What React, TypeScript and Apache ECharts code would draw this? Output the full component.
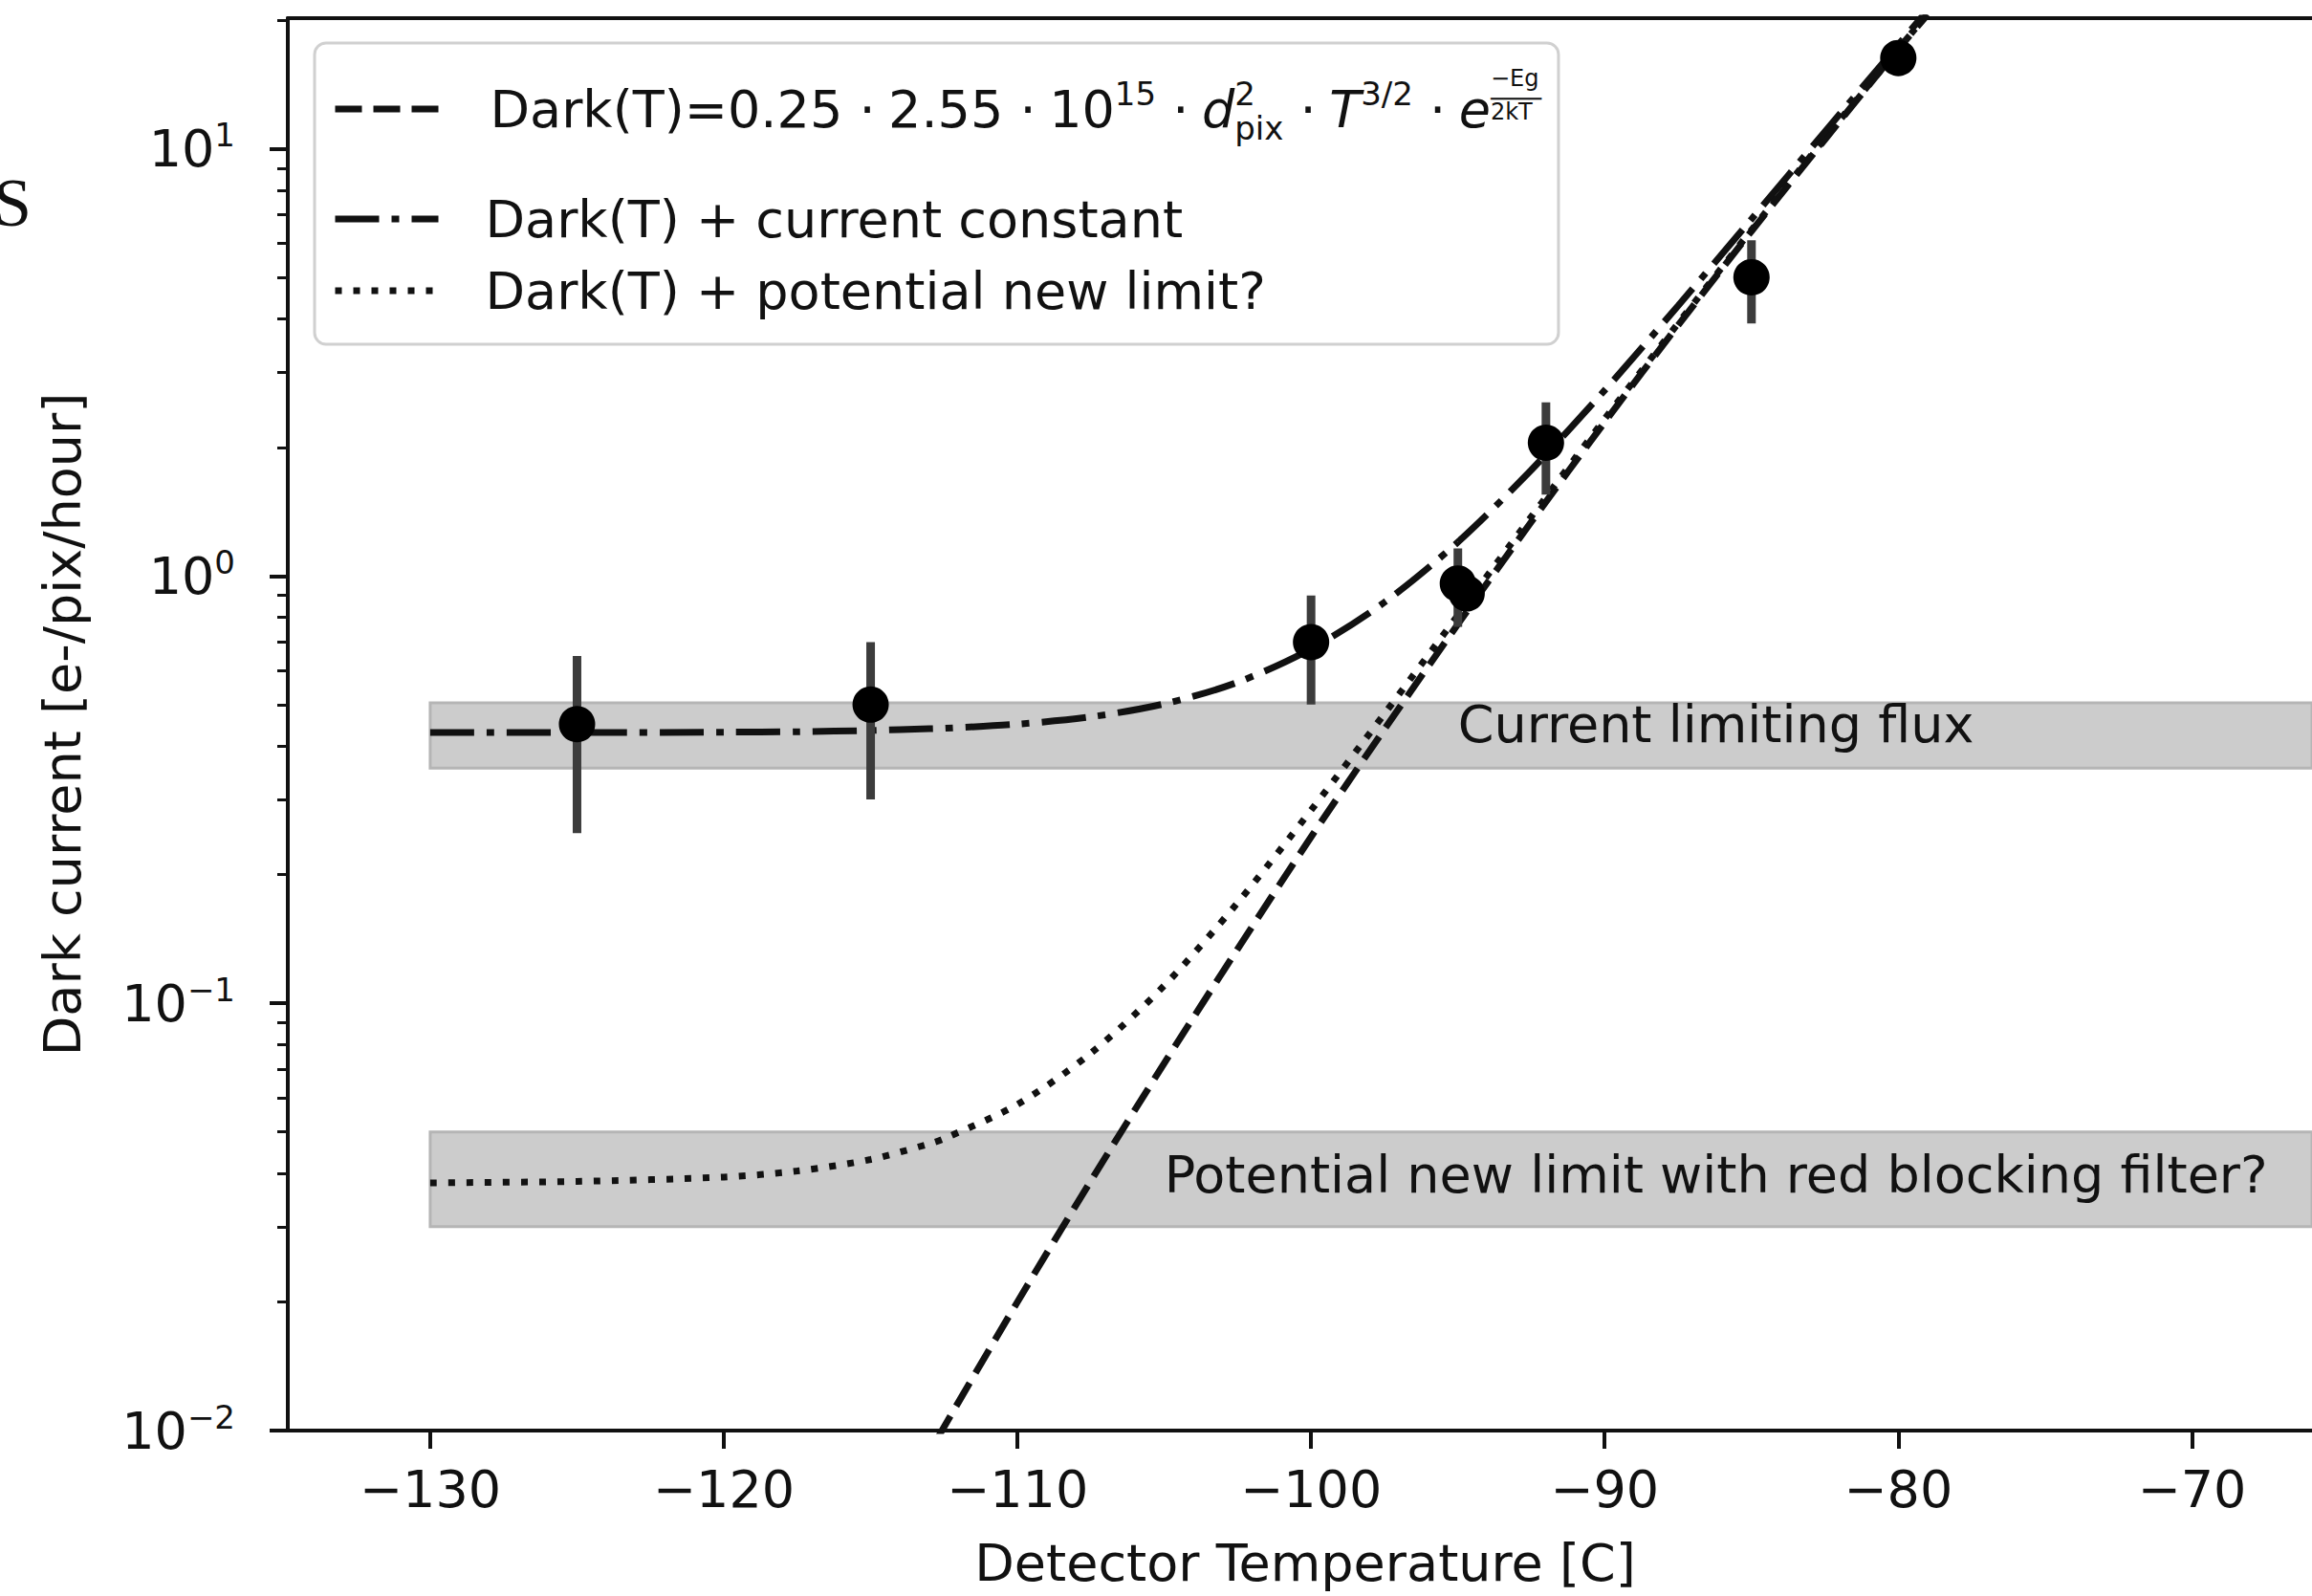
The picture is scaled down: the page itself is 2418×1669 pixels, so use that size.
import React, { useEffect, useRef } from 'react';
import * as echarts from 'echarts';

// ---------- data ----------
const xTicks = [-130, -120, -110, -100, -90, -80, -70];
const yDecades = [0.01, 0.1, 1, 10];
const yMinorTicks = [
  0.02, 0.03, 0.04, 0.05, 0.06, 0.07, 0.08, 0.09,
  0.2, 0.3, 0.4, 0.5, 0.6, 0.7, 0.8, 0.9,
  2, 3, 4, 5, 6, 7, 8, 9, 20,
];

const curveTemps = [-130, -125, -120, -117.5, -115, -113, -112.5, -110, -107.5, -105, -102.5, -100, -97.5, -95, -92.5, -90, -87.5, -85, -82.5, -80, -79];
const darkValues = [0.000047, 0.00025, 0.00118, 0.00248, 0.00507, 0.00886, 0.0102, 0.02, 0.0384, 0.0724, 0.134, 0.245, 0.438, 0.771, 1.338, 2.29, 3.86, 6.41, 10.5, 17.1, 20.6];
const darkConstValues = [0.43, 0.43, 0.431, 0.432, 0.435, 0.439, 0.44, 0.45, 0.468, 0.502, 0.564, 0.675, 0.868, 1.2, 1.77, 2.72, 4.29, 6.84, 10.96, 17.5, 21.1];
const darkNewValues = [0.038, 0.0383, 0.0392, 0.0405, 0.0431, 0.0469, 0.0482, 0.058, 0.0764, 0.11, 0.172, 0.283, 0.476, 0.809, 1.376, 2.33, 3.9, 6.45, 10.57, 17.1, 20.7];

const pointTemps = [-125, -115, -100, -95, -94.7, -92, -85, -80];
const pointValues = [0.45, 0.5, 0.7, 0.96, 0.91, 2.05, 5.0, 16.3];
const pointErrors = [0.2, 0.2, 0.2, 0.2, 0.05, 0.5, 1.1, 1.0];

const bandStart = -130;
const bandCurrent = [0.355, 0.505];
const bandNew = [0.03, 0.05];

const bandLabelTexts = ['Current limiting flux', 'Potential new limit with red blocking filter?'];
const bandLabelTemps = [-95, -105];
const bandLabelValues = [0.45, 0.0396];

const seriesNames = ['dark', 'darkConst', 'darkNew'];
const DOT = ' ·\u2005';
const legendTexts = [
  `{sp1| }{m|Dark(T)=0.25${DOT}2.55${DOT}10}{sup|15}{m|${DOT}}{it|d}{s0|2}{sub|pix}{m|${DOT}}{it|T}{sup|3/2}{m|${DOT}}{it|e}{fn|−Eg}{fb|────}{fd|2kT}`,
  '{sp| }Dark(T) + current constant',
  '{sp| }Dark(T) + potential new limit?',
];

const X_MIN = -134.85;
const X_MAX = -65.91;
const Y_MIN = 0.01;
const Y_MAX = 20.2;

const FONT = "'DejaVu Sans', 'Noto Sans', sans-serif";
const INK = '#111111';
const lg = (v: number) => Math.log10(v);

function buildOption(): any {
  const curve = (vals: number[]) => curveTemps.map((t, i) => [t, lg(vals[i])]);
  const axisLineStyle = { color: INK, width: 4 };
  return {
    animation: false,
    backgroundColor: '#ffffff',
    textStyle: { fontFamily: FONT },
    grid: { left: 301, top: 19, right: 0, bottom: 165, containLabel: false },
    graphic: [
      {
        type: 'text',
        x: -7,
        y: 176,
        style: {
          text: 'S',
          fontSize: 72,
          fontFamily: "'Liberation Serif', 'DejaVu Serif', serif",
          fill: INK,
          verticalAlign: 'top',
        },
      },
    ],
    legend: {
      data: seriesNames,
      orient: 'vertical',
      left: 329,
      top: 45,
      padding: [0, 18, 27, 18],
      itemGap: 17,
      itemWidth: 108,
      itemHeight: 20,
      selectedMode: false,
      backgroundColor: '#ffffff',
      borderColor: '#d0d0d0',
      borderWidth: 3,
      borderRadius: 12,
      lineStyle: { width: 7 },
      itemStyle: { color: 'transparent', borderWidth: 0, opacity: 0 },
      formatter: (name: string) => legendTexts[seriesNames.indexOf(name)],
      textStyle: {
        fontSize: 54,
        fontFamily: FONT,
        color: INK,
        lineHeight: 58,
        rich: {
          sp: { width: 44 },
          sp1: { width: 49 },
          m: { fontSize: 54, lineHeight: 138, fontFamily: FONT, color: INK },
          it: { fontSize: 54, fontStyle: 'italic', fontFamily: FONT, color: INK },
          sup: { fontSize: 34, padding: [0, 0, 32, 0], fontFamily: FONT, color: INK },
          s0: { fontSize: 34, width: 0, padding: [0, 0, 32, 0], fontFamily: FONT, color: INK },
          sub: { fontSize: 34, padding: [40, 0, 0, 0], fontFamily: FONT, color: INK },
          fn: { fontSize: 24, width: 0, padding: [0, 0, 64, 0], fontFamily: FONT, color: INK },
          fb: { fontSize: 22, width: 0, padding: [0, 0, 22, 0], fontFamily: FONT, color: INK },
          fd: { fontSize: 24, padding: [6, 0, 0, 0], fontFamily: FONT, color: INK },
        },
      },
    },
    xAxis: [
      {
        type: 'value',
        min: X_MIN,
        max: X_MAX,
        position: 'bottom',
        axisLine: { show: true, onZero: false, lineStyle: axisLineStyle },
        axisTick: { show: true, length: 19, lineStyle: { color: INK, width: 4 }, customValues: xTicks },
        axisLabel: {
          customValues: xTicks,
          formatter: (v: number) => (v < 0 ? '−' + Math.abs(v) : String(v)),
          fontSize: 54,
          lineHeight: 60,
          color: INK,
          fontFamily: FONT,
          margin: 31,
        },
        splitLine: { show: false },
        name: 'Detector Temperature [C]',
        nameLocation: 'middle',
        nameGap: 108,
        nameTextStyle: { fontSize: 54, lineHeight: 60, color: INK, fontFamily: FONT, padding: [0, 0, 0, 11] },
      },
      {
        type: 'value',
        min: X_MIN,
        max: X_MAX,
        position: 'top',
        axisLine: { show: true, onZero: false, lineStyle: axisLineStyle },
        axisTick: { show: false },
        axisLabel: { show: false },
        splitLine: { show: false },
      },
    ],
    yAxis: [
      {
        type: 'value',
        min: lg(Y_MIN),
        max: lg(Y_MAX),
        position: 'left',
        axisLine: { show: true, onZero: false, lineStyle: axisLineStyle },
        axisTick: { show: true, length: 19, lineStyle: { color: INK, width: 4 }, customValues: yDecades.map(lg) },
        axisLabel: {
          customValues: yDecades.map(lg),
          formatter: (v: number) => {
            const n = Math.round(v);
            return `{b|10}{s|${n < 0 ? '−' + -n : n}}`;
          },
          margin: 55,
          color: INK,
          rich: {
            b: { fontSize: 54, fontFamily: FONT, color: INK },
            s: { fontSize: 34, padding: [0, 0, 28, 0], fontFamily: FONT, color: INK },
          },
        },
        splitLine: { show: false },
        name: 'Dark current [e-/pix/hour]',
        nameLocation: 'middle',
        nameGap: 206,
        nameRotate: 90,
        nameTextStyle: { fontSize: 54, lineHeight: 60, color: INK, fontFamily: FONT },
      },
      {
        type: 'value',
        min: lg(Y_MIN),
        max: lg(Y_MAX),
        position: 'left',
        axisLine: { show: false },
        axisTick: { show: true, length: 11, lineStyle: { color: INK, width: 3 }, customValues: yMinorTicks.map(lg) },
        axisLabel: { show: false },
        splitLine: { show: false },
      },
    ],
    series: [
      {
        name: 'bands',
        type: 'scatter',
        xAxisIndex: 0,
        yAxisIndex: 0,
        z: 2,
        symbolSize: 0,
        itemStyle: { color: 'transparent', opacity: 1 },
        data: bandLabelTemps.map((t, i) => [t, lg(bandLabelValues[i])]),
        label: {
          show: true,
          position: 'right',
          distance: 0,
          formatter: (p: any) => bandLabelTexts[p.dataIndex],
          fontSize: 54,
          fontFamily: FONT,
          color: INK,
        },
        markArea: {
          silent: true,
          itemStyle: { color: '#cccccc', borderColor: '#b5b5b5', borderWidth: 3 },
          data: [
            [{ coord: [bandStart, lg(bandCurrent[1])] }, { coord: [X_MAX, lg(bandCurrent[0])] }],
            [{ coord: [bandStart, lg(bandNew[1])] }, { coord: [X_MAX, lg(bandNew[0])] }],
          ],
        },
      },
      {
        name: 'dark',
        type: 'line',
        xAxisIndex: 0,
        yAxisIndex: 0,
        z: 3,
        symbol: 'none',
        smooth: 0.3,
        data: curve(darkValues),
        lineStyle: { color: INK, width: 7, type: [28, 12] },
        itemStyle: { color: INK },
      },
      {
        name: 'darkConst',
        type: 'line',
        xAxisIndex: 0,
        yAxisIndex: 0,
        z: 3,
        symbol: 'none',
        smooth: 0.3,
        data: curve(darkConstValues),
        lineStyle: { color: INK, width: 7, type: [46, 13, 8, 13] },
        itemStyle: { color: INK },
      },
      {
        name: 'darkNew',
        type: 'line',
        xAxisIndex: 0,
        yAxisIndex: 0,
        z: 3,
        symbol: 'none',
        smooth: 0.3,
        data: curve(darkNewValues),
        lineStyle: { color: INK, width: 7, type: [7, 12] },
        itemStyle: { color: INK },
      },
      {
        name: 'errorbars',
        type: 'custom',
        xAxisIndex: 0,
        yAxisIndex: 0,
        z: 4,
        encode: { x: 0, y: [1, 2, 3] },
        data: pointTemps.map((t, i) => [
          t,
          lg(pointValues[i]),
          lg(pointValues[i] - pointErrors[i]),
          lg(pointValues[i] + pointErrors[i]),
        ]),
        renderItem: (params: any, api: any) => {
          const x = api.value(0);
          const lo = api.coord([x, api.value(2)]);
          const hi = api.coord([x, api.value(3)]);
          return {
            type: 'line',
            shape: { x1: lo[0], y1: lo[1], x2: hi[0], y2: hi[1] },
            style: { stroke: '#3c3c3c', lineWidth: 9 },
          };
        },
      },
      {
        name: 'points',
        type: 'scatter',
        xAxisIndex: 0,
        yAxisIndex: 0,
        z: 5,
        symbol: 'circle',
        symbolSize: 38,
        itemStyle: { color: '#000000', opacity: 1 },
        data: pointTemps.map((t, i) => [t, lg(pointValues[i])]),
      },
    ],
  };
}

export default function App() {
  const ref = useRef<HTMLDivElement>(null);
  useEffect(() => {
    if (!ref.current) return;
    const chart = echarts.init(ref.current, undefined, { renderer: 'svg' });
    chart.setOption(buildOption());
    return () => chart.dispose();
  }, []);
  return (
    <div
      ref={ref}
      style={{ position: 'absolute', left: 0, top: 0, width: 2418, height: 1669, background: '#ffffff' }}
    />
  );
}
